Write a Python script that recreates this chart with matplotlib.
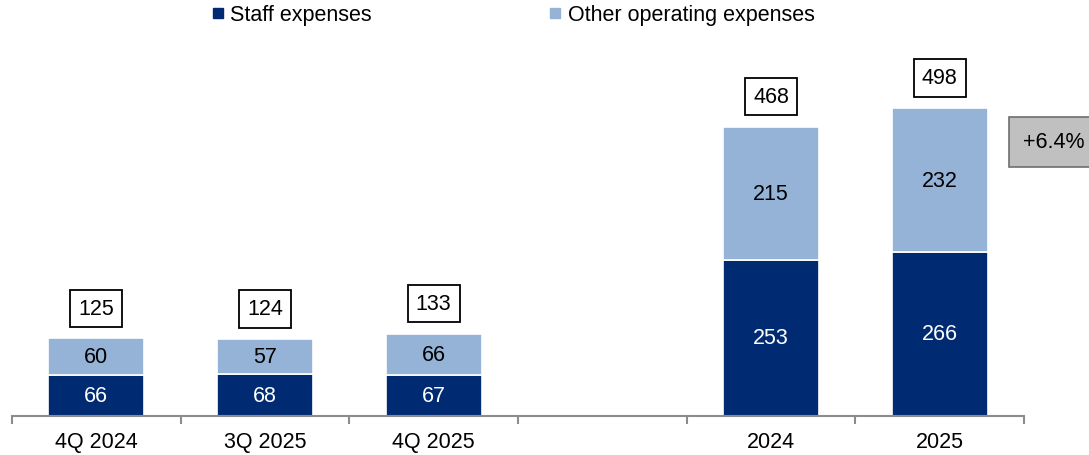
import matplotlib
matplotlib.use('Agg')
import matplotlib.pyplot as plt
from matplotlib.lines import Line2D
import numpy as np

plt.rcParams['font.family'] = ['Liberation Sans', 'DejaVu Sans']

# Data
categories = ['4Q 2024', '3Q 2025', '4Q 2025', '', '2024', '2025']
staff = [66, 68, 67, None, 253, 266]
other = [60, 57, 66, None, 215, 232]
totals = [125, 124, 133, None, 468, 498]
growth_label = '+6.4%'

NAVY = '#002B73'
LIGHT = '#95B3D7'
AXIS = '#8c8c8c'

fig = plt.figure(figsize=(10.89, 4.56), dpi=100)
ax = fig.add_axes([12/1089, 39/456, 1012/1089, 377/456])

x = np.arange(len(categories))
w = 0.57
for i in x:
    if staff[i] is None:
        continue
    ax.bar(i, staff[i], w, color=NAVY, edgecolor='white', linewidth=1.2)
    ax.bar(i, other[i], w, bottom=staff[i], color=LIGHT, edgecolor='white', linewidth=1.2)
    ax.text(i, staff[i] / 2, str(staff[i]), ha='center', va='center',
            fontsize=15.5, color='white')
    ax.text(i, staff[i] + other[i] / 2, str(other[i]), ha='center', va='center',
            fontsize=15.5, color='black')
    ax.annotate(str(totals[i]), (i, totals[i]), textcoords='offset points',
                xytext=(0, 22), ha='center', va='center', fontsize=15.5,
                bbox=dict(boxstyle='square,pad=0.38', facecolor='white',
                          edgecolor='black', linewidth=1.3))

ax.set_xlim(-0.5, len(categories) - 0.5)
ax.set_ylim(0, 610.5)

for s in ['top', 'right', 'left']:
    ax.spines[s].set_visible(False)
ax.spines['bottom'].set_color(AXIS)
ax.spines['bottom'].set_linewidth(1.5)
ax.set_yticks([])
ax.set_xticks(x)
ax.set_xticklabels(categories, fontsize=15.5)
ax.tick_params(axis='x', which='major', length=0, pad=11)
ax.set_xticks(np.arange(-0.5, len(categories)), minor=True)
ax.tick_params(axis='x', which='minor', length=6, width=1.5, color=AXIS, direction='out')

# growth box
fig.text(1054/1089, 1 - 143/456, growth_label, ha='center', va='center', fontsize=15.5,
         bbox=dict(boxstyle='square,pad=0.68', facecolor='#c0c0c0',
                   edgecolor='#6e6e6e', linewidth=1.2))

handles = [
    Line2D([], [], marker='s', linestyle='none', markersize=7, color=NAVY, label='Staff expenses'),
    Line2D([], [], marker='s', linestyle='none', markersize=7, color=LIGHT, label='Other operating expenses'),
]
fig.legend(handles=handles, loc='center', bbox_to_anchor=(513/1089, 1 - 16/456),
           ncol=2, frameon=False, fontsize=15.5, handlelength=0.6, handletextpad=0.3,
           columnspacing=8.2)

fig.savefig('out.png', dpi=100)
